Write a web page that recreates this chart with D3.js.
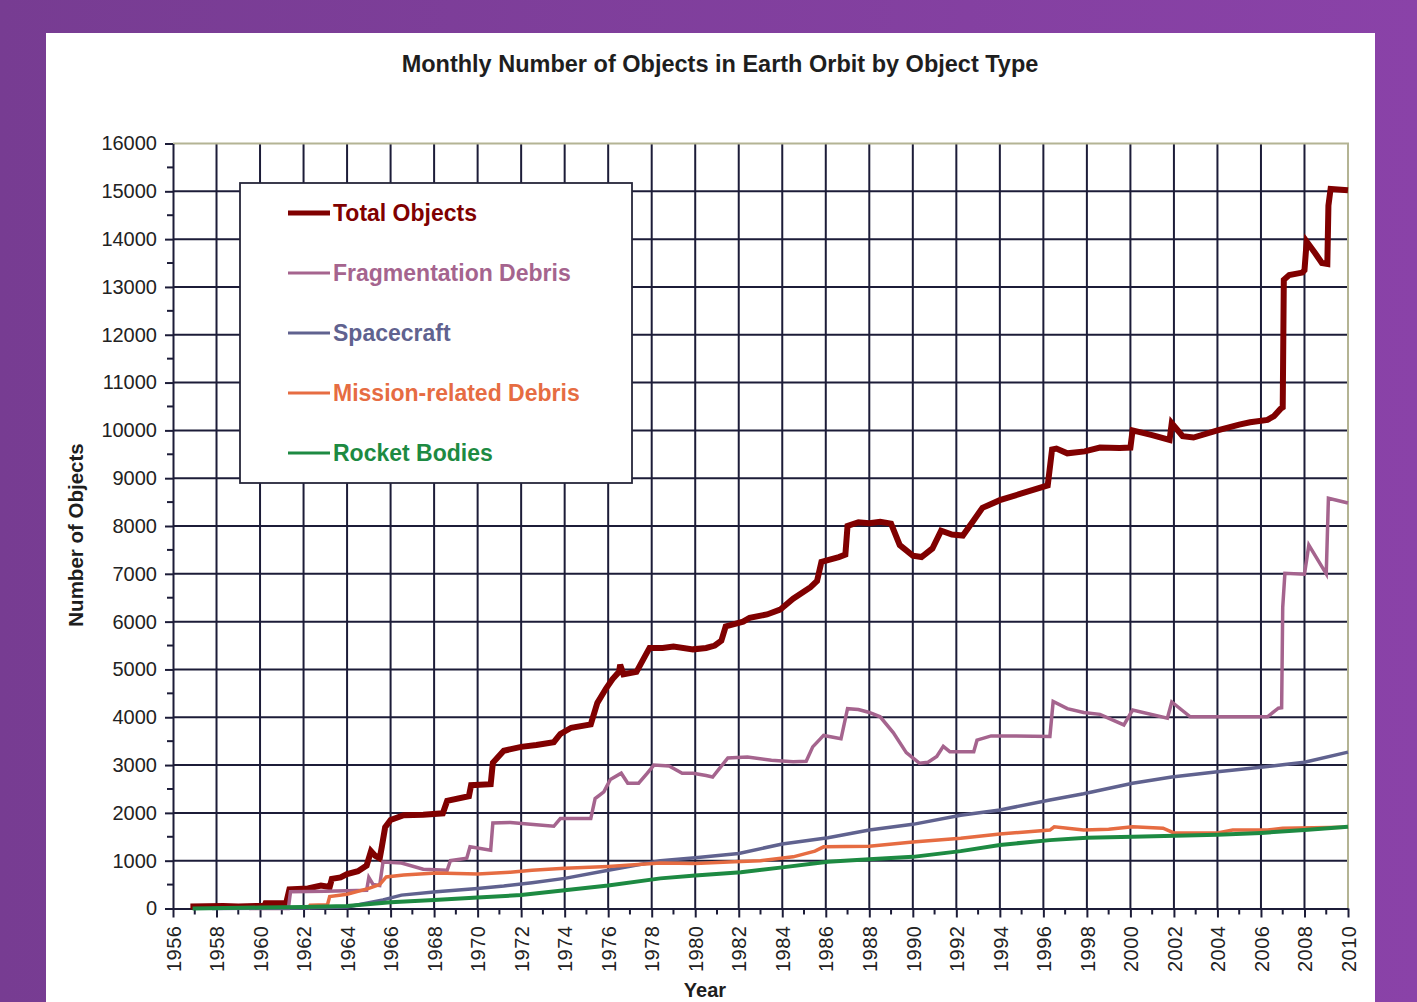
<!DOCTYPE html>
<html>
<head>
<meta charset="utf-8">
<script src="https://cdn.jsdelivr.net/npm/d3@7"></script>
<style>
  html, body { margin: 0; padding: 0; }
  body { width: 1417px; height: 1002px; overflow: hidden; }
  text { font-family: "Liberation Sans", Arial, sans-serif; }
</style>
</head>
<body>
<svg id="chart"></svg>
<script>
const width = 1417
const height = 1002

// tick values
const yearTicks = d3.range(1956, 2011, 2)
const minorYearTicks = d3.range(1957, 2010, 2)
const countTicks = d3.range(0, 16001, 1000)
const minorCountTicks = d3.range(500, 16000, 1000)

// series: [year, number of objects]
const totalObjects = [
  [1956.8, 40], [1958.3, 50], [1959.0, 40], [1960.2, 60], [1960.25, 110], [1961.2, 110],
  [1961.35, 400], [1962.2, 420], [1962.8, 480], [1963.2, 450], [1963.3, 620], [1963.7, 650],
  [1964.0, 720], [1964.5, 780], [1964.9, 900], [1965.1, 1200], [1965.3, 1100], [1965.5, 1050],
  [1965.6, 1300], [1965.75, 1700], [1966.0, 1850], [1966.6, 1950], [1967.5, 1960], [1968.4, 1990],
  [1968.6, 2250], [1969.6, 2350], [1969.7, 2580], [1970.6, 2600], [1970.7, 3050], [1971.2, 3300],
  [1972.0, 3380], [1972.7, 3420], [1973.5, 3480], [1973.8, 3650], [1974.3, 3780], [1975.2, 3850],
  [1975.5, 4300], [1975.9, 4600], [1976.2, 4800], [1976.5, 4950], [1976.55, 5100], [1976.7, 4900],
  [1977.3, 4950], [1977.6, 5200], [1977.9, 5450], [1978.5, 5450], [1979.0, 5480], [1979.9, 5420],
  [1980.5, 5450], [1980.9, 5500], [1981.2, 5600], [1981.4, 5900], [1982.2, 6000], [1982.5, 6080],
  [1983.3, 6150], [1983.9, 6250], [1984.5, 6480], [1985.3, 6720], [1985.6, 6850], [1985.8, 7250],
  [1986.6, 7350], [1986.9, 7400], [1987.0, 8000], [1987.5, 8080], [1988.0, 8060], [1988.5, 8090],
  [1989.0, 8050], [1989.4, 7600], [1990.0, 7380], [1990.4, 7350], [1990.9, 7530], [1991.3, 7900],
  [1991.8, 7820], [1992.3, 7800], [1992.8, 8120], [1993.2, 8380], [1994.0, 8540], [1995.0, 8680],
  [1996.2, 8850], [1996.4, 9600], [1996.6, 9620], [1997.1, 9520], [1997.9, 9560], [1998.6, 9640],
  [1999.5, 9630], [2000.0, 9640], [2000.1, 10000], [2001.0, 9900], [2001.8, 9800], [2001.9, 10150],
  [2002.4, 9880], [2002.9, 9850], [2004.0, 10000], [2005.0, 10120], [2005.5, 10170], [2006.3, 10220],
  [2006.6, 10300], [2006.9, 10450], [2007.0, 10480], [2007.05, 13150], [2007.3, 13250], [2007.9, 13300],
  [2008.0, 13350], [2008.1, 13950], [2008.5, 13700], [2008.8, 13500], [2009.05, 13480], [2009.1, 14700],
  [2009.2, 15050], [2010.0, 15020]
]

const fragmentationDebris = [
  [1959.5, 0], [1961.3, 0], [1961.4, 350], [1963.0, 360], [1964.9, 380], [1965.0, 650], [1965.2, 500],
  [1965.5, 480], [1965.65, 970], [1966.5, 950], [1967.5, 820], [1968.6, 800], [1968.75, 1000],
  [1969.5, 1050], [1969.65, 1290], [1970.6, 1220], [1970.7, 1790], [1971.5, 1800], [1972.7, 1750],
  [1973.5, 1720], [1973.8, 1880], [1975.2, 1880], [1975.4, 2300], [1975.8, 2440], [1976.1, 2700],
  [1976.6, 2830], [1976.9, 2620], [1977.4, 2620], [1977.8, 2830], [1978.1, 3000], [1978.8, 2980],
  [1979.4, 2830], [1979.9, 2830], [1980.5, 2780], [1980.8, 2750], [1981.5, 3150], [1982.4, 3170],
  [1983.5, 3100], [1984.5, 3070], [1985.1, 3080], [1985.4, 3380], [1985.9, 3620], [1986.7, 3550],
  [1987.0, 4180], [1987.5, 4160], [1988.0, 4100], [1988.5, 4010], [1989.1, 3680], [1989.7, 3260],
  [1990.3, 3040], [1990.7, 3060], [1991.1, 3180], [1991.4, 3390], [1991.7, 3280], [1992.8, 3280],
  [1992.95, 3520], [1993.6, 3610], [1996.3, 3600], [1996.45, 4330], [1997.1, 4180], [1997.85, 4100],
  [1998.6, 4060], [1999.7, 3840], [2000.1, 4150], [2001.7, 3980], [2001.9, 4320], [2002.75, 4010],
  [2006.3, 4010], [2006.8, 4190], [2006.95, 4200], [2007.0, 6300], [2007.1, 7010], [2008.0, 6990],
  [2008.2, 7600], [2009.0, 7000], [2009.1, 8580], [2010.0, 8480]
]

const spacecraft = [
  [1957.8, 0], [1962.0, 10], [1964.0, 30], [1965.0, 120], [1965.65, 180], [1966.5, 280],
  [1968.1, 350], [1970.0, 420], [1971.2, 470], [1972.5, 540], [1974.0, 630], [1976.0, 800],
  [1978.4, 1000], [1980.0, 1060], [1982.0, 1150], [1984.0, 1350], [1986.1, 1480], [1988.0, 1640],
  [1990.0, 1760], [1992.2, 1950], [1994.0, 2060], [1996.3, 2270], [1997.85, 2400], [2000.1, 2620],
  [2001.9, 2750], [2004.0, 2860], [2006.1, 2960], [2008.0, 3060], [2010.0, 3270]
]

const missionDebris = [
  [1962.2, 0], [1962.3, 70], [1963.1, 80], [1963.2, 250], [1964.0, 300], [1965.0, 420],
  [1965.5, 500], [1965.8, 660], [1966.6, 700], [1968.1, 740], [1970.0, 720], [1971.5, 760],
  [1972.5, 800], [1974.0, 840], [1976.0, 880], [1978.4, 950], [1980.0, 940], [1981.8, 980],
  [1983.0, 1000], [1984.5, 1080], [1985.5, 1200], [1985.9, 1290], [1988.0, 1300], [1990.0, 1390],
  [1992.2, 1470], [1994.0, 1560], [1996.3, 1640], [1996.5, 1710], [1997.85, 1640], [1999.0, 1660],
  [2000.1, 1710], [2001.5, 1680], [2002.0, 1580], [2004.0, 1580], [2004.7, 1640], [2006.3, 1640],
  [2007.0, 1680], [2009.8, 1700]
]

const rocketBodies = [
  [1956.9, 0], [1960.0, 20], [1962.0, 30], [1964.0, 50], [1966.0, 130], [1968.0, 180],
  [1970.0, 230], [1972.0, 280], [1974.0, 380], [1976.0, 480], [1978.4, 630], [1980.0, 690],
  [1982.1, 760], [1984.0, 860], [1986.1, 980], [1988.0, 1030], [1990.0, 1080], [1992.2, 1200],
  [1994.0, 1330], [1996.3, 1430], [1998.0, 1480], [2000.1, 1500], [2004.0, 1540], [2006.0, 1580],
  [2008.0, 1640], [2010.0, 1710]
]

const seriesNames = ["Total Objects", "Fragmentation Debris", "Spacecraft", "Mission-related Debris", "Rocket Bodies"]
const seriesData = [totalObjects, fragmentationDebris, spacecraft, missionDebris, rocketBodies]
const seriesColors = ["#800000", "#a5648e", "#60628f", "#e66c42", "#1d8a42"]
const seriesWidths = [6, 3.5, 3.5, 3.5, 4]

const svg = d3.select("#chart")
  .attr("width", width)
  .attr("height", height)

// background + white panel
const defs = svg.append("defs")
const grad = defs.append("linearGradient").attr("id", "bg")
grad.append("stop").attr("offset", "0%").attr("stop-color", "#773c92")
grad.append("stop").attr("offset", "100%").attr("stop-color", "#8a42a8")
svg.append("rect").attr("width", width).attr("height", height).attr("fill", "url(#bg)")
svg.append("rect").attr("x", 46).attr("y", 33).attr("width", 1329).attr("height", height - 33).attr("fill", "#fff")

const x = d3.scaleLinear().domain([1956, 2010]).range([173, 1348])
const y = d3.scaleLinear().domain([0, 16000]).range([908.5, 143.5])

const gridColor = "#1c1c38"

// grid
svg.append("g").selectAll("line")
  .data(yearTicks.filter(d => d > 1956 && d < 2010))
  .join("line")
  .attr("x1", d => x(d)).attr("x2", d => x(d))
  .attr("y1", y(16000)).attr("y2", y(0))
  .attr("stroke", gridColor).attr("stroke-width", 2)

svg.append("g").selectAll("line")
  .data(countTicks.filter(d => d > 0 && d < 16000))
  .join("line")
  .attr("x1", x(1956)).attr("x2", x(2010))
  .attr("y1", d => y(d)).attr("y2", d => y(d))
  .attr("stroke", gridColor).attr("stroke-width", 2)

// top/right frame
svg.append("path")
  .attr("d", `M${x(1956)},${y(16000)}H${x(2010)}V${y(0)}`)
  .attr("fill", "none").attr("stroke", "#b4b494").attr("stroke-width", 2)

// axes
const xAxis = svg.append("g")
  .attr("transform", `translate(0,${y(0)})`)
  .call(d3.axisBottom(x).tickValues(yearTicks).tickFormat(d3.format("d")).tickSize(9).tickSizeOuter(0))
xAxis.select(".domain").attr("stroke", gridColor).attr("stroke-width", 2)
xAxis.selectAll(".tick line").attr("stroke", gridColor).attr("stroke-width", 2)
xAxis.selectAll(".tick text")
  .attr("transform", "rotate(-90)")
  .attr("text-anchor", "end")
  .attr("x", -17).attr("y", 0).attr("dy", "0.36em")
  .attr("font-size", 20).attr("letter-spacing", "0.5").attr("fill", "#222")
  .style("font-family", "'Liberation Sans', Arial, sans-serif")

xAxis.selectAll(".minor")
  .data(minorYearTicks)
  .join("line").attr("class", "minor")
  .attr("x1", d => x(d)).attr("x2", d => x(d))
  .attr("y1", 0).attr("y2", 6)
  .attr("stroke", gridColor).attr("stroke-width", 2)

const yAxis = svg.append("g")
  .attr("transform", `translate(${x(1956)},0)`)
  .call(d3.axisLeft(y).tickValues(countTicks).tickFormat(d3.format("d")).tickSize(8).tickPadding(8).tickSizeOuter(0))
yAxis.select(".domain").attr("stroke", gridColor).attr("stroke-width", 2)
yAxis.selectAll(".tick line").attr("stroke", gridColor).attr("stroke-width", 2)
yAxis.selectAll(".tick text")
  .attr("font-size", 20).attr("fill", "#222")
  .style("font-family", "'Liberation Sans', Arial, sans-serif")

yAxis.selectAll(".minor")
  .data(minorCountTicks)
  .join("line").attr("class", "minor")
  .attr("x1", -6).attr("x2", 0)
  .attr("y1", d => y(d)).attr("y2", d => y(d))
  .attr("stroke", gridColor).attr("stroke-width", 2)

// legend box
const legend = svg.append("g")
legend.append("rect")
  .attr("x", 240).attr("y", 183).attr("width", 392).attr("height", 300)
  .attr("fill", "#fff").attr("stroke", "#26263a").attr("stroke-width", 1.8)

// series lines
const line = d3.line()
  .x(d => x(d[0]))
  .y(d => y(d[1]))
  .curve(d3.curveLinear)

svg.append("g").selectAll("path")
  .data(seriesData)
  .join("path")
  .attr("d", line)
  .attr("fill", "none")
  .attr("stroke", (d, i) => seriesColors[i])
  .attr("stroke-width", (d, i) => seriesWidths[i])
  .attr("stroke-linejoin", "miter")

// legend entries
const entry = legend.selectAll(".entry")
  .data(seriesNames)
  .join("g").attr("class", "entry")
  .attr("transform", (d, i) => `translate(288,${213 + i * 60})`)

entry.append("line")
  .attr("x1", 0).attr("x2", 42)
  .attr("stroke", (d, i) => seriesColors[i])
  .attr("stroke-width", (d, i) => i === 0 ? 5 : 3)

entry.append("text")
  .attr("x", 45).attr("dy", "0.36em")
  .attr("font-size", 23).attr("font-weight", "bold")
  .attr("fill", (d, i) => seriesColors[i])
  .text(d => d)

// titles
svg.append("text")
  .attr("x", 720).attr("y", 72)
  .attr("text-anchor", "middle")
  .attr("font-size", 23.5).attr("font-weight", "bold").attr("fill", "#1e1e1e")
  .text("Monthly Number of Objects in Earth Orbit by Object Type")

svg.append("text")
  .attr("x", 705).attr("y", 997)
  .attr("text-anchor", "middle")
  .attr("font-size", 20).attr("font-weight", "bold").attr("fill", "#1e1e1e")
  .text("Year")

svg.append("text")
  .attr("transform", "translate(83,535) rotate(-90)")
  .attr("text-anchor", "middle")
  .attr("font-size", 20.5).attr("font-weight", "bold").attr("fill", "#1e1e1e")
  .text("Number of Objects")
</script>
</body>
</html>
